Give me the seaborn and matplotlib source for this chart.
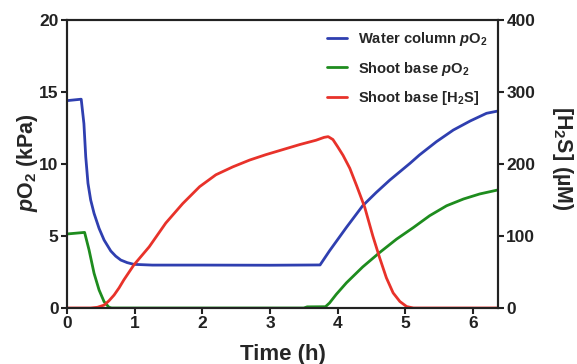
import matplotlib
matplotlib.use("Agg")
import matplotlib.pyplot as plt
import seaborn as sns
import pandas as pd

# ---- data ----
water_t = [0, 0.21, 0.25, 0.277, 0.31, 0.35, 0.40, 0.474, 0.548, 0.647, 0.72, 0.795,
           0.89, 0.99, 1.26, 2.0, 3.0, 3.74, 3.88, 4.13, 4.37, 4.57, 4.77, 5.07,
           5.21, 5.46, 5.71, 5.96, 6.20, 6.37]
water_po2 = [14.4, 14.5, 12.8, 10.5, 8.66, 7.5, 6.57, 5.53, 4.72, 3.96, 3.6, 3.33,
             3.15, 3.03, 2.98, 2.98, 2.97, 2.99, 3.97, 5.6, 7.1, 8.02, 8.88, 10.05,
             10.63, 11.55, 12.36, 12.99, 13.52, 13.68]

shoot_t = [0, 0.26, 0.326, 0.40, 0.474, 0.548, 0.62, 0.66, 1.0, 3.5, 3.55, 3.82,
           3.88, 3.98, 4.13, 4.37, 4.62, 4.87, 5.12, 5.36, 5.61, 5.86, 6.10, 6.37]
shoot_po2 = [5.14, 5.25, 4.03, 2.41, 1.25, 0.44, 0.05, 0.0, 0.0, 0.0, 0.08, 0.09,
             0.35, 0.95, 1.75, 2.85, 3.85, 4.78, 5.59, 6.41, 7.1, 7.57, 7.92, 8.2]

h2s_t = [0, 0.35, 0.45, 0.548, 0.62, 0.696, 0.77, 0.84, 0.99, 1.215, 1.46, 1.71,
         1.96, 2.20, 2.45, 2.70, 2.94, 3.19, 3.44, 3.68, 3.80, 3.86, 3.93, 4.0,
         4.08, 4.18, 4.28, 4.4, 4.52, 4.62, 4.72, 4.82, 4.92, 5.02, 5.12, 6.37]
h2s_um = [0, 0, 1, 4, 10, 18, 28, 39, 60, 85, 118, 145,
          168.5, 185, 196, 205.5, 213, 220, 227, 233, 237, 238, 234, 224,
          212, 194, 170, 140, 100, 70, 42, 21, 9, 2, 0, 0]

x_ticks = [0, 1, 2, 3, 4, 5, 6]
left_ticks = [0, 5, 10, 15, 20]
right_ticks = [0, 100, 200, 300, 400]

labels = ["Water column $p$O$_2$", "Shoot base $p$O$_2$", "Shoot base [H$_2$S]"]
colors = ["#2f3fb0", "#1e8c1e", "#e8322a"]

# ---- style ----
sns.set_style("ticks")
plt.rcParams["font.family"] = ["Liberation Sans", "DejaVu Sans"]
plt.rcParams["font.weight"] = "bold"
plt.rcParams["mathtext.fontset"] = "custom"
plt.rcParams["mathtext.rm"] = "Liberation Sans:bold"
plt.rcParams["mathtext.it"] = "Liberation Sans:italic:bold"
plt.rcParams["mathtext.bf"] = "Liberation Sans:bold"

W, H = 577, 364
fig = plt.figure(figsize=(W / 100, H / 100), dpi=100)
ax = fig.add_axes([67 / W, 1 - 308 / H, (498 - 67) / W, (308 - 20) / H])
ax2 = ax.twinx()

df_w = pd.DataFrame({"t": water_t, "v": water_po2})
df_s = pd.DataFrame({"t": shoot_t, "v": shoot_po2})
df_h = pd.DataFrame({"t": h2s_t, "v": h2s_um})

sns.lineplot(data=df_w, x="t", y="v", ax=ax, color=colors[0], lw=2, label=labels[0], legend=False)
sns.lineplot(data=df_s, x="t", y="v", ax=ax, color=colors[1], lw=2, label=labels[1], legend=False)
sns.lineplot(data=df_h, x="t", y="v", ax=ax2, color=colors[2], lw=2, label=labels[2], legend=False)

ax.set_xlim(0, 6.37)
ax.set_ylim(0, 20)
ax2.set_ylim(0, 400)
ax.set_xticks(x_ticks)
ax.set_yticks(left_ticks)
ax2.set_yticks(right_ticks)

for a in (ax, ax2):
    for s in a.spines.values():
        s.set_linewidth(1.5)
        s.set_color("#222222")
    a.tick_params(direction="out", length=4, width=1.5, labelsize=12.5, pad=2, colors="#222222")
    for lab in a.get_xticklabels() + a.get_yticklabels():
        lab.set_fontweight("bold")

ax.set_xlabel("Time (h)", fontsize=16, fontweight="bold")
ax.xaxis.set_label_coords(0.5, -0.125)
ax.xaxis.label.set_verticalalignment("top")

ax.set_ylabel("$p$O$_2$ (kPa)", fontsize=15.5, fontweight="bold")
ax.yaxis.label.set_rotation_mode("anchor")
ax.yaxis.label.set_verticalalignment("center")
ax.yaxis.label.set_horizontalalignment("center")
ax.yaxis.set_label_coords((28 - 67) / 431, 0.505)

ax2.set_ylabel("[H$_2$S] (µM)", fontsize=15.5, fontweight="bold", rotation=270)
ax2.yaxis.label.set_rotation_mode("anchor")
ax2.yaxis.label.set_verticalalignment("center")
ax2.yaxis.label.set_horizontalalignment("center")
ax2.yaxis.set_label_coords((562.5 - 67) / 431, 0.52)

h1, l1 = ax.get_legend_handles_labels()
h2, l2 = ax2.get_legend_handles_labels()
leg = ax2.legend(h1 + h2, l1 + l2, loc="upper right", frameon=False, fontsize=10.6,
                 handlelength=1.35, handletextpad=0.75, labelspacing=0.77,
                 borderaxespad=0.3, bbox_to_anchor=(1.0, 1.0))
for t in leg.get_texts():
    t.set_fontweight("bold")

fig.savefig("out.png", dpi=100)
